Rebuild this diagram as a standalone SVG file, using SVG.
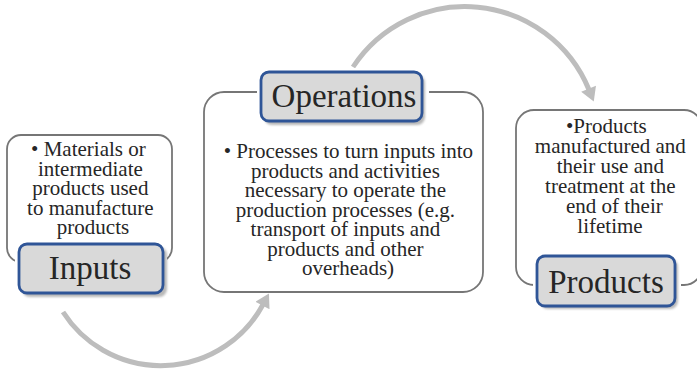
<svg xmlns="http://www.w3.org/2000/svg" width="697" height="371" viewBox="0 0 697 371">
  <defs>
    <style>
      .panel { fill: #ffffff; stroke: #767676; stroke-width: 1.8; }
      .tag { fill: #d9d9d9; stroke: #2f5597; stroke-width: 2.8; }
      .tag-halo { fill: #ffffff; }
      .tag-shadow { fill: #7f7f7f; opacity: 0.55; }
      .body { font-size: 21px; fill: #262626; text-anchor: middle; }
      .title { font-size: 33px; fill: #262626; text-anchor: middle; }
      .flow { fill: none; stroke: #bdbdbd; stroke-width: 5; }
    </style>
    <filter id="soft" x="-10%" y="-10%" width="120%" height="130%">
      <feGaussianBlur stdDeviation="1.2"/>
    </filter>
    <marker id="head" markerUnits="userSpaceOnUse" markerWidth="16" markerHeight="16" viewBox="0 0 12 14" refX="1" refY="7" orient="auto">
      <path d="M0,0 L12,7 L0,14 Z" fill="#bdbdbd"/>
    </marker>
  </defs>

  <!-- curved flow arrows -->
  <g id="connectors">
    <path class="flow" marker-end="url(#head)" d="M63,312 A116,116 0 0,0 263,304.5"/>
    <path class="flow" marker-end="url(#head)" d="M353,67 A134,134 0 0,1 589,89.8"/>
  </g>

  <!-- Inputs -->
  <g id="inputs" font-family="Liberation Serif, serif">
    <rect class="panel" x="7" y="135" width="165" height="127" rx="14"/>
    <text class="body">
      <tspan x="91" y="156">• Materials or</tspan>
      <tspan x="93" y="175.5">intermediate</tspan>
      <tspan x="93" y="195">products used</tspan>
      <tspan x="93" y="214.5">to manufacture</tspan>
      <tspan x="93" y="234">products</tspan>
    </text>
    <rect class="tag-halo" x="15" y="240" width="152" height="57" rx="10"/>
    <rect class="tag-shadow" filter="url(#soft)" x="22" y="247" width="145" height="50" rx="8"/>
    <rect class="tag" x="19" y="244" width="144" height="49" rx="8"/>
    <text class="title" x="90" y="279">Inputs</text>
  </g>

  <!-- Operations -->
  <g id="operations" font-family="Liberation Serif, serif">
    <rect class="panel" x="204" y="92" width="279" height="200" rx="20"/>
    <text class="body">
      <tspan x="351" y="158">• Processes to turn inputs into</tspan>
      <tspan x="348" y="177.5">products and activities</tspan>
      <tspan x="348" y="197">necessary to operate the</tspan>
      <tspan x="348" y="216.5">production processes (e.g.</tspan>
      <tspan x="348" y="236">transport of inputs and</tspan>
      <tspan x="348" y="255.5">products and other</tspan>
      <tspan x="348" y="275">overheads)</tspan>
    </text>
    <rect class="tag-halo" x="257" y="68" width="172" height="58" rx="10"/>
    <rect class="tag-shadow" filter="url(#soft)" x="264" y="75" width="161" height="50" rx="8"/>
    <rect class="tag" x="261" y="72" width="161" height="49" rx="8"/>
    <text class="title" x="344" y="107">Operations</text>
  </g>

  <!-- Products -->
  <g id="products" font-family="Liberation Serif, serif">
    <rect class="panel" x="516" y="110" width="186" height="175" rx="18"/>
    <text class="body">
      <tspan x="609" y="133">•Products</tspan>
      <tspan x="613" y="153">manufactured and</tspan>
      <tspan x="613" y="173">their use and</tspan>
      <tspan x="613" y="193">treatment at the</tspan>
      <tspan x="617" y="213">end of their</tspan>
      <tspan x="610" y="233">lifetime</tspan>
    </text>
    <rect class="tag-halo" x="533" y="252" width="148" height="60" rx="10"/>
    <rect class="tag-shadow" filter="url(#soft)" x="540" y="259" width="138" height="50" rx="8"/>
    <rect class="tag" x="537" y="256" width="138" height="50" rx="8"/>
    <text class="title" x="606" y="293">Products</text>
  </g>
</svg>
